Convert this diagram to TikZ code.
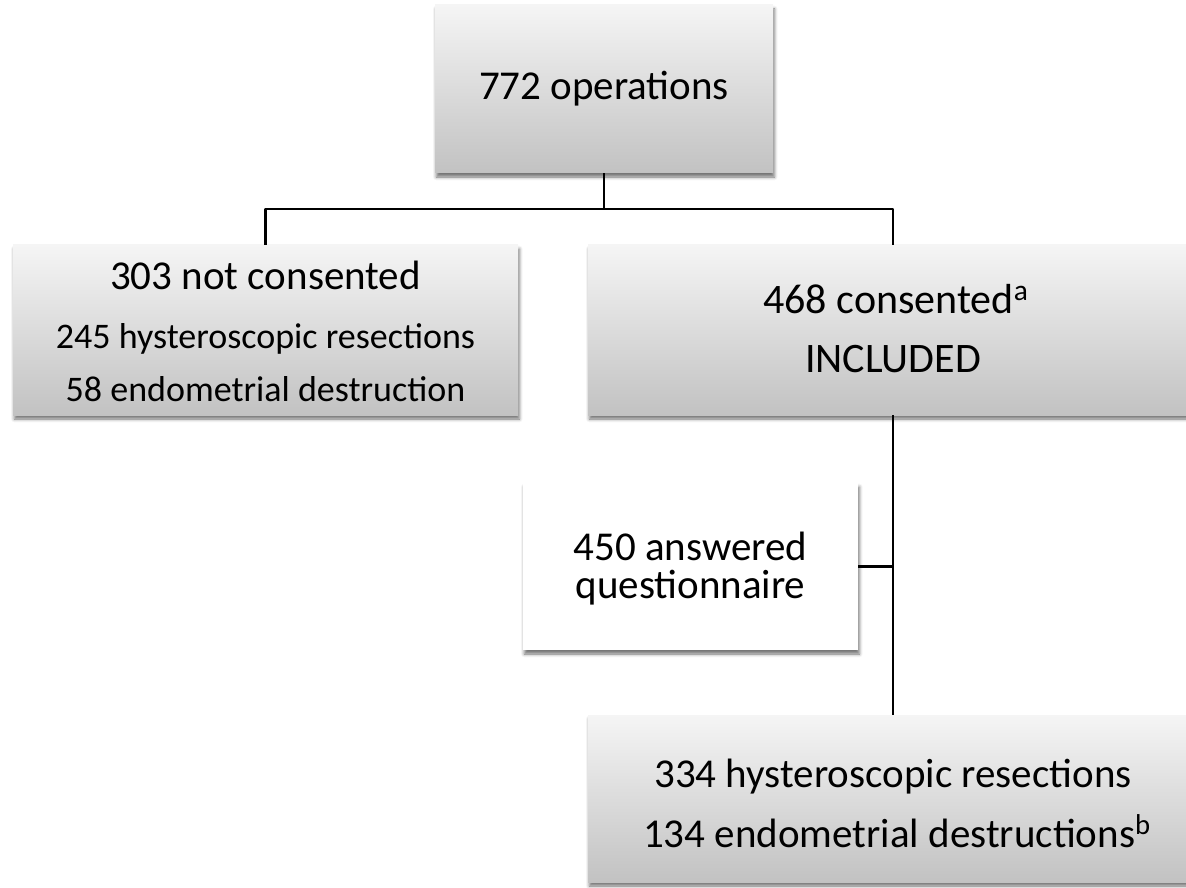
\documentclass[tikz,border=0pt]{standalone}
\usepackage{fontspec}
\setmainfont{Carlito}
\usetikzlibrary{shadows.blur}
\definecolor{gtop}{HTML}{F5F5F5}
\definecolor{gmid}{HTML}{E6E6E6}
\definecolor{gbot}{HTML}{C2C2C2}
\begin{document}
\begin{tikzpicture}[x=0.75pt,y=-0.75pt]
\tikzset{
  gbox/.style={rectangle, inner sep=0pt, top color=gtop, middle color=gmid, bottom color=gbot,
    blur shadow={shadow xshift=1pt, shadow yshift=-3pt, shadow blur radius=2.5pt, shadow opacity=55}},
  wbox/.style={rectangle, inner sep=0pt, fill=white,
    blur shadow={shadow xshift=1pt, shadow yshift=-3pt, shadow blur radius=2.5pt, shadow opacity=55}},
  conn/.style={line width=1.9pt, line join=round, draw=black},
  bigtxt/.style={font=\fontsize{30.75}{36}\selectfont, anchor=base, inner sep=0pt},
  medtxt/.style={font=\fontsize{31.5}{37}\selectfont, anchor=base, inner sep=0pt},
  smalltxt/.style={font=\fontsize{27}{32}\selectfont, anchor=base, inner sep=0pt}
}
\useasboundingbox (0,0) rectangle (1186,888);
\clip (0,0) rectangle (1186,888);
% boxes
\node[gbox, minimum width=253.5pt, minimum height=126pt] (top) at (604,89) {};
\node[gbox, minimum width=378.75pt, minimum height=127.5pt] (left) at (265.5,330) {};
\node[gbox, minimum width=457.5pt, minimum height=127.5pt] (right) at (893,330) {};
\node[wbox, minimum width=251.25pt, minimum height=125.25pt] (mid) at (690.5,566.5) {};
\node[gbox, minimum width=457.5pt, minimum height=125.25pt] (bot) at (893,798.5) {};
% texts
\node[bigtxt] (ttop) at (604,100) {772 operations};
\node[bigtxt] (tl1) at (265.5,290) {303 not consented};
\node[smalltxt] (tl2) at (265.5,349) {245 hysteroscopic resections};
\node[smalltxt] (tl3) at (265.5,401) {58 endometrial destruction};
\node[medtxt] (tr1) at (896,313) {468 consented\textsuperscript{a}};
\node[medtxt] (tr2) at (893,372) {INCLUDED};
\node[bigtxt] (tm1) at (690.5,560) {450 answered};
\node[bigtxt] (tm2) at (690.5,598) {questionnaire};
\node[bigtxt] (tb1) at (893,787) {334 hysteroscopic resections};
\node[bigtxt] (tb2) at (897,847) {134 endometrial destructions\textsuperscript{b}};
% connectors
\coordinate (split) at (604,209);
\draw[conn] (top.south) -- (split);
\draw[conn] (left.north) |- (split) -| (right.north);
\draw[conn] (right.south) -- (bot.north);
\draw[conn] (mid.east) -- (mid.east -| right.south);
\end{tikzpicture}
\end{document}
